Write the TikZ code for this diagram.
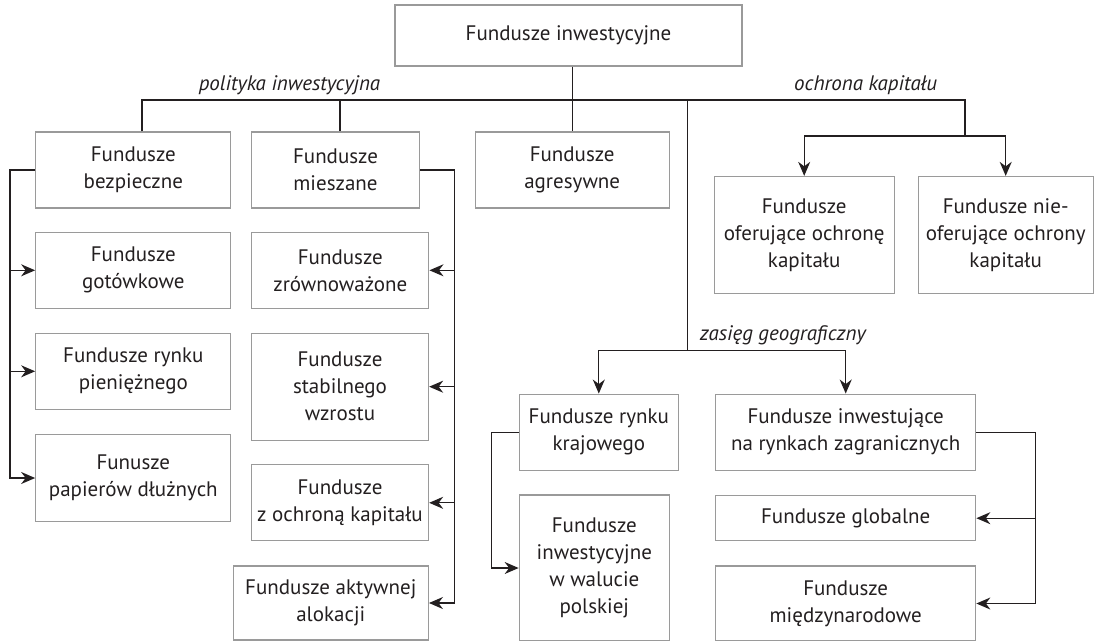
\documentclass[tikz,border=0pt]{standalone}
\usepackage{fontspec}
\setmainfont{PT Sans}
\usepackage{tikz}
\usetikzlibrary{calc}
\usetikzlibrary{arrows.meta}
\usetikzlibrary{positioning}
\definecolor{boxgray}{HTML}{9A9A9A}
\definecolor{ink}{HTML}{231F20}
\tikzset{>={Stealth[length = 14pt, width = 12pt, inset = 4.5pt]}}
\tikzstyle{fund} = [rectangle, draw = boxgray, line width = 1.3pt, inner sep = 0, align = center, text = ink, font = \fontsize{21}{27}\selectfont]
\tikzstyle{crit} = [inner sep = 0, anchor = base, text = ink, font = \fontsize{21}{27}\selectfont\itshape]
\tikzstyle{link} = [draw = ink, line width = 1.3pt]

\begin{document}
\begin{tikzpicture}[x = 1pt, y = -1pt]
\useasboundingbox (0, 0) rectangle (1094, 640);
\node [fund, minimum width = 347, minimum height = 61] (top) at (568.5, 35.5) {Fundusze inwestycyjne};
\node [crit] (polit) at (289.5, 90) {polityka inwestycyjna};
\node [crit] (ochrona) at (865.7, 90) {ochrona kapitału};
\node [crit] (zasieg) at (782.8, 340) {zasięg geograficzny};
% polityka inwestycyjna
\node [fund, minimum width = 195, minimum height = 76] (bezp) at (133.3, 170) {Fundusze\\bezpieczne};
\node [fund, minimum width = 168, minimum height = 76] (mies) at (335.5, 170) {Fundusze\\mieszane};
\node [fund, minimum width = 194, minimum height = 76] (agr) at (572.2, 170) {Fundusze\\agresywne};
\node [fund, minimum width = 195, minimum height = 76] (got) at (133.3, 270.3) {Fundusze\\gotówkowe};
\node [fund, minimum width = 195, minimum height = 76] (pien) at (133.3, 371.3) {Fundusze rynku\\pieniężnego};
\node [fund, minimum width = 195, minimum height = 87] (papier) at (133.3, 478) {Funusze\\papierów dłużnych};
\node [fund, minimum width = 177, minimum height = 76] (zrown) at (340.3, 270.3) {Fundusze\\zrównoważone};
\node [fund, minimum width = 177, minimum height = 107] (stab) at (340, 386.7) {Fundusze\\stabilnego\\wzrostu};
\node [fund, minimum width = 177, minimum height = 76] (zochr) at (340, 502.8) {Fundusze\\z ochroną kapitału};
\node [fund, minimum width = 195, minimum height = 74] (aktyw) at (330.8, 603) {Fundusze aktywnej\\alokacji};
% ochrona kapitalu
\node [fund, minimum width = 180, minimum height = 117] (ofer) at (804.2, 235) {Fundusze\\oferujące ochronę\\kapitału};
\node [fund, minimum width = 175, minimum height = 117] (nieofer) at (1005.7, 235) {Fundusze nie-\\oferujące ochrony\\kapitału};
% zasieg geograficzny
\node [fund, minimum width = 159, minimum height = 76] (kraj) at (598.8, 432.2) {Fundusze rynku\\krajowego};
\node [fund, minimum width = 150, minimum height = 146] (walut) at (594.3, 568) {Fundusze\\inwestycyjne\\w walucie\\polskiej};
\node [fund, minimum width = 260, minimum height = 76] (zagr) at (845.7, 432.2) {Fundusze inwestujące\\na rynkach zagranicznych};
\node [fund, minimum width = 260, minimum height = 45] (glob) at (845.7, 518.2) {Fundusze globalne};
\node [fund, minimum width = 260, minimum height = 75] (miedzy) at (845.7, 603.5) {Fundusze\\międzynarodowe};
\coordinate (busL) at (142, 100);
\coordinate (busM) at (340, 100);
\coordinate (busR) at (965, 100);
\coordinate (ochr) at (965, 136);
\coordinate (geo) at (687.7, 350.7);
\coordinate (lb) at (10, 0);
\coordinate (rb) at (454.3, 0);
\coordinate (kb) at (491.7, 0);
\coordinate (zb) at (1035.7, 0);
\draw [link] (busL |- bezp.north) -- (busL) -- (busR) -- (ochr);
\draw [link] (busM) -- (busM |- mies.north);
\draw [link] (top.south -| agr.north) -- (agr.north);
\draw [link] (busL -| geo) -- (geo);
\draw [link, ->] (ochr) -| (ofer.north);
\draw [link, ->] (ochr) -| (nieofer.north);
\draw [link, ->] (geo) -| (kraj.north);
\draw [link, ->] (geo) -| (zagr.north);
\foreach \n in {got, pien, papier}
  \draw [link, ->] (bezp.west) -| (lb |- \n.west) -- (\n.west);
\foreach \n in {zrown, stab, zochr, aktyw}
  \draw [link, ->] (mies.east) -| (rb |- \n.east) -- (\n.east);
\draw [link, ->] (kraj.west) -| (kb |- walut.west) -- (walut.west);
\foreach \n in {glob, miedzy}
  \draw [link, ->] (zagr.east) -| (zb |- \n.east) -- (\n.east);
\end{tikzpicture}
\end{document}
